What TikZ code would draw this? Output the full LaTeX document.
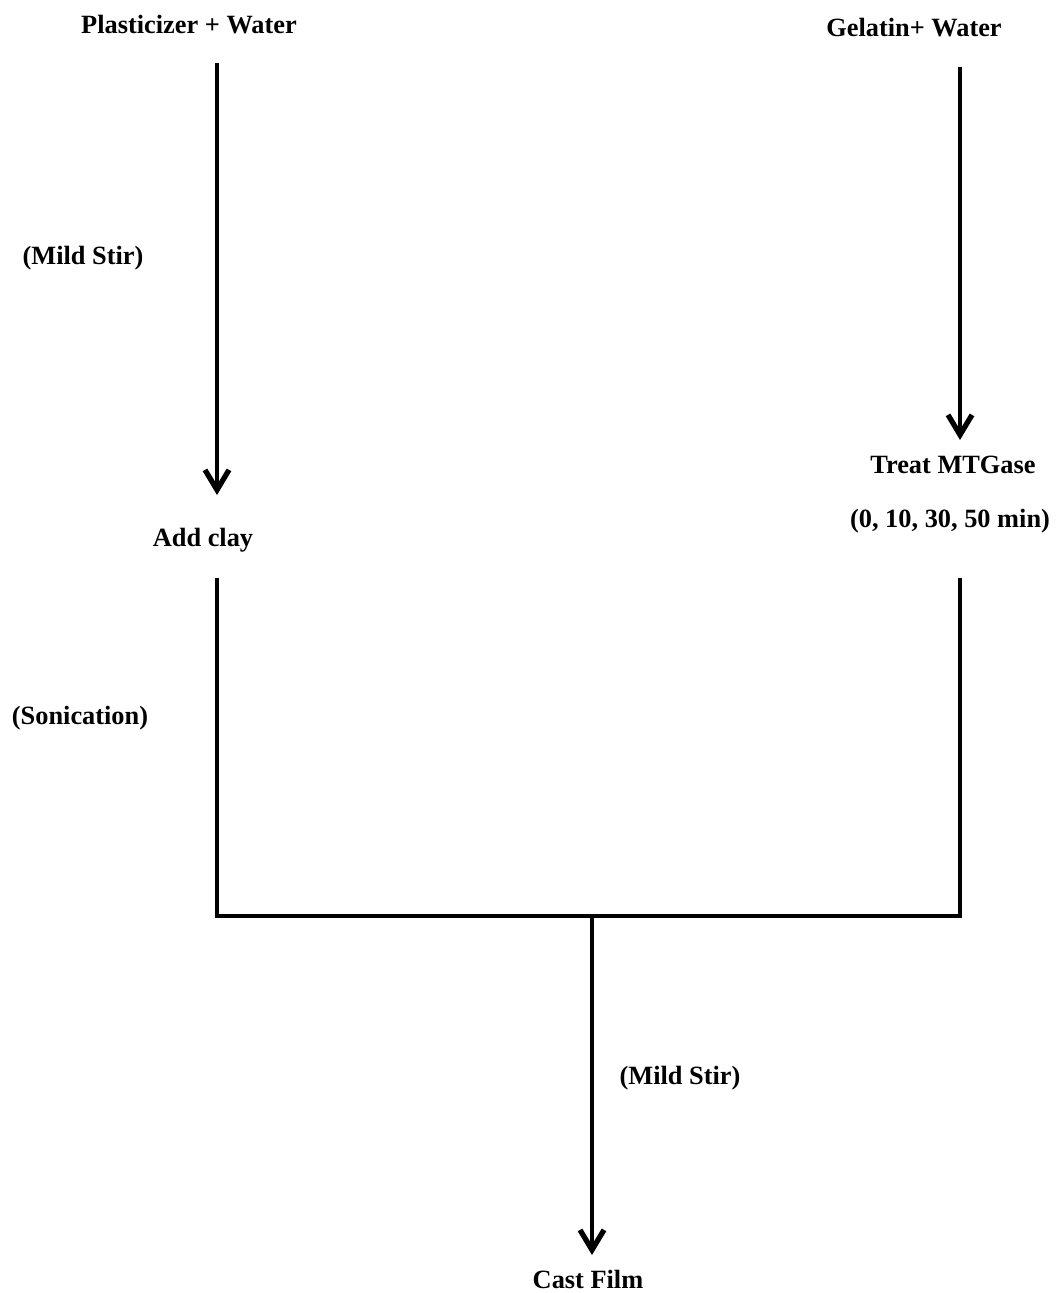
\documentclass[tikz,border=0pt]{standalone}
\usepackage{fontspec}
\setmainfont{Liberation Serif}
\usepackage{tikz}
\usetikzlibrary{arrows.meta}
\tikzset{txt/.style={font=\bfseries\fontsize{15}{18}\selectfont, inner sep=0pt}}
\tikzset{line/.style={line width=2.5pt}}
\tikzset{arrow/.style={line, -{Straight Barb[length=0.4cm, width=0.48cm, line width=3pt]}}}

\begin{document}
\begin{tikzpicture}[x=0.02cm, y=-0.02cm]
\useasboundingbox (0,0) rectangle (1058,1293);
%定义文字
\node (plast) [txt] at (189,25) {Plasticizer + Water};
\node (stir1) [txt] at (83,258) {(Mild Stir)};
\node (clay) [txt] at (203,540) {Add clay};
\node (sonic) [txt] at (80,718) {(Sonication)};
\node (gel) [txt] at (914,28) {Gelatin+ Water};
\node (treat) [txt] at (953,465) {Treat MTGase};
\node (times) [txt] at (950,521) {(0, 10, 30, 50 min)};
\node (stir2) [txt] at (680,1078) {(Mild Stir)};
\node (cast) [txt] at (588,1279) {Cast Film};

%连接点
\coordinate (jl) at (217,916);
\coordinate (jr) at (960,916);
\coordinate (jm) at (592,916);

%连接线
\draw [arrow, shorten <=0.76cm, shorten >=0.9cm] (plast -| jl) -- (clay -| jl);
\draw [arrow, shorten <=0.78cm, shorten >=0.5cm] (gel -| jr) -- (treat -| jr);
\draw [line, shorten <=0.76cm, shorten >=1.14cm] (clay -| jl) -- (jl) -- (jr) -- (times -| jr);
\draw [arrow, shorten >=0.48cm] (jm) -- (cast -| jm);
\end{tikzpicture}
\end{document}
